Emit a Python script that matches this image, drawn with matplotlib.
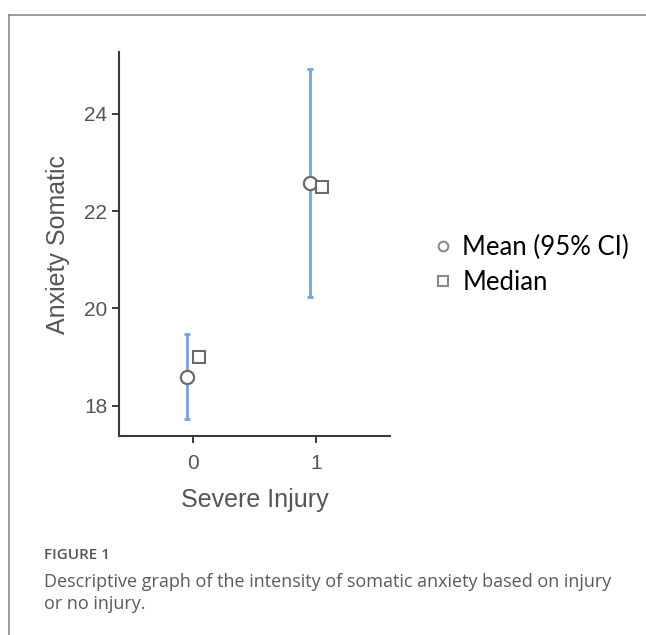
import matplotlib
matplotlib.use("Agg")
import matplotlib.pyplot as plt
from matplotlib.lines import Line2D

# data
groups = [0, 1]
mean_vals = [18.6, 22.57]
ci_low = [17.73, 20.23]
ci_high = [19.48, 24.92]
median_vals = [19.0, 22.5]
y_ticks = [18, 20, 22, 24]

fig = plt.figure(figsize=(6.46, 6.35), dpi=100)
fig.patch.set_facecolor("white")

# figure frame (top and left edges only)
fig.add_artist(Line2D([9 / 646, 9 / 646], [0, 1 - 15 / 635], transform=fig.transFigure,
                      color="#8a8a8a", lw=1.2))
fig.add_artist(Line2D([9 / 646, 1], [1 - 15 / 635, 1 - 15 / 635], transform=fig.transFigure,
                      color="#8a8a8a", lw=1.2))

ax = fig.add_axes([119 / 646, 1 - 436 / 635, (390 - 119) / 646, (436 - 52) / 635])

off = 0.05
xm = [g - off for g in groups]
xd = [g + off for g in groups]
yerr = [[m - lo for m, lo in zip(mean_vals, ci_low)],
        [hi - m for m, hi in zip(mean_vals, ci_high)]]

ax.errorbar(xm, mean_vals, yerr=yerr, fmt="none", ecolor="#72a2e8", elinewidth=2.0,
            capsize=2.5, capthick=2.0, zorder=2)
ax.plot(xm, mean_vals, "o", ms=9.5, mfc="white", mec="#6a6a6a", mew=1.6, zorder=3)
ax.plot(xd, median_vals, "s", ms=8, mfc="white", mec="#6a6a6a", mew=1.5, zorder=3)

ax.set_xlim(-0.6, 1.6)
ax.set_ylim(17.38, 25.27)
ax.set_xticks(groups)
ax.set_yticks(y_ticks)

for side in ["top", "right"]:
    ax.spines[side].set_visible(False)
for side in ["left", "bottom"]:
    ax.spines[side].set_color("#3a3a3a")
    ax.spines[side].set_linewidth(1.5)

ax.tick_params(axis="both", colors="#3a3a3a", width=1.4, length=5, labelsize=15,
               labelcolor="#555555", labelfontfamily="Liberation Sans")
ax.tick_params(axis="x", pad=8)
ax.set_xlabel("Severe Injury", fontsize=18, color="#555555", family="Liberation Sans", labelpad=11)
ax.set_ylabel("Anxiety Somatic", fontsize=18, color="#555555", family="Liberation Sans", labelpad=10)

# legend
handles = [Line2D([], [], ls="none", marker="o", ms=7, mfc="white", mec="#8a8a8a", mew=1.5),
           Line2D([], [], ls="none", marker="s", ms=6.5, mfc="white", mec="#8a8a8a", mew=1.5)]
fig.legend(handles, ["Mean (95% CI)", "Median"], loc="center left",
           bbox_to_anchor=(420 / 646, 1 - 265 / 635), frameon=False,
           prop={"family": "Lato", "size": 18.5}, handlelength=0.8, handletextpad=0.35,
           labelspacing=0.42, borderpad=0)

# caption
fig.text(44 / 646, 1 - 555 / 635, "FIGURE 1", fontsize=11, color="#555555",
         family="Open Sans", fontweight="semibold", va="center")
fig.text(44 / 646, 1 - 593 / 635,
         "Descriptive graph of the intensity of somatic anxiety based on injury\nor no injury.",
         fontsize=13, color="#5a5a5a", family="Open Sans", va="center", linespacing=1.3)

fig.savefig("out.png", dpi=100)
